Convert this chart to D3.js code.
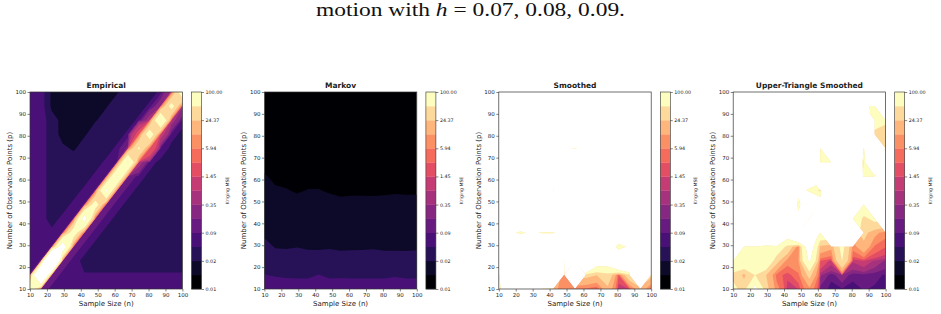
<!DOCTYPE html>
<html>
<head>
<meta charset="UTF-8">
<script src="https://d3js.org/d3.v7.min.js"></script>
<style>
  body { margin: 0; background: #fff; }
  text { font-family: "DejaVu Sans", sans-serif; fill: #222; }
</style>
</head>
<body>
<svg id="canvas"></svg>
<script>
const _ = null;   // masked cell (no estimate)

// grid of the simulation: sample size n (columns) and observation points p (rows)
const nValues = [10, 16.43, 22.86, 29.29, 35.71, 42.14, 48.57, 55, 61.43, 67.86, 74.29, 80.71, 87.14, 93.57, 100];
const pValues = [10, 16.43, 22.86, 29.29, 35.71, 42.14, 48.57, 55, 61.43, 67.86, 74.29, 80.71, 87.14, 93.57, 100];

// contour levels of the kriging MSE (log spaced) and colour bar labels
const levels = [0.00511, 0.01035, 0.02096, 0.04246, 0.0860, 0.1742, 0.3529, 0.7148, 1.448, 2.933, 5.94, 12.03, 24.37, 49.37, 100];
const cbTickLabels = ["0.01", "0.02", "0.09", "0.35", "1.45", "5.94", "24.37", "100.00"];
const axisTicks = [10, 20, 30, 40, 50, 60, 70, 80, 90, 100];
const panelTitles = ["Empirical", "Markov", "Smoothed", "Upper-Triangle Smoothed"];

// kriging MSE, one row per p (10 -> 100), one value per n (10 -> 100)
const empirical = [
  [80, 0.15, 0.06, 0.06, 0.06, 0.06, 0.06, 0.06, 0.06, 0.06, 0.06, 0.06, 0.06, 0.06, 0.06],
  [0.09, 300, 0.15, 0.06, 0.045, 0.045, 0.045, 0.045, 0.045, 0.045, 0.045, 0.045, 0.045, 0.045, 0.045],
  [0.06, 0.09, 400, 0.15, 0.06, 0.03, 0.03, 0.03, 0.03, 0.03, 0.03, 0.03, 0.03, 0.03, 0.03],
  [0.06, 0.055, 0.09, 150, 0.15, 0.06, 0.03, 0.03, 0.03, 0.03, 0.03, 0.03, 0.03, 0.03, 0.03],
  [0.06, 0.055, 0.05, 0.09, 75, 0.15, 0.06, 0.03, 0.03, 0.03, 0.03, 0.03, 0.03, 0.03, 0.03],
  [0.06, 0.055, 0.03, 0.05, 0.09, 130, 0.15, 0.06, 0.03, 0.03, 0.03, 0.03, 0.03, 0.03, 0.03],
  [0.06, 0.055, 0.03, 0.028, 0.05, 0.09, 70, 0.15, 0.06, 0.03, 0.03, 0.03, 0.03, 0.03, 0.03],
  [0.06, 0.055, 0.03, 0.028, 0.028, 0.05, 0.09, 115, 0.15, 0.06, 0.03, 0.03, 0.03, 0.03, 0.03],
  [0.06, 0.055, 0.03, 0.028, 0.028, 0.027, 0.05, 0.09, 110, 0.15, 0.06, 0.03, 0.03, 0.03, 0.03],
  [0.06, 0.055, 0.03, 0.028, 0.028, 0.027, 0.027, 0.05, 0.09, 108, 0.5, 0.06, 0.03, 0.03, 0.03],
  [0.06, 0.055, 0.03, 0.024, 0.019, 0.027, 0.027, 0.026, 0.05, 0.2, 55, 3, 0.08, 0.03, 0.03],
  [0.06, 0.055, 0.03, 0.015, 0.014, 0.0195, 0.027, 0.026, 0.027, 0.05, 2, 75, 1, 0.06, 0.03],
  [0.06, 0.055, 0.03, 0.015, 0.014, 0.015, 0.02, 0.026, 0.027, 0.027, 0.05, 0.5, 105, 0.5, 0.06],
  [0.06, 0.055, 0.016, 0.015, 0.014, 0.015, 0.019, 0.02, 0.027, 0.027, 0.027, 0.05, 0.3, 65, 0.4],
  [0.06, 0.055, 0.016, 0.015, 0.014, 0.015, 0.016, 0.019, 0.02, 0.027, 0.027, 0.027, 0.05, 0.4, 80]
];

const markov = [
  [0.055, 0.052, 0.051, 0.050, 0.050, 0.054, 0.050, 0.051, 0.050, 0.050, 0.050, 0.050, 0.051, 0.050, 0.050],
  [0.043, 0.041, 0.040, 0.040, 0.040, 0.0428, 0.040, 0.040, 0.040, 0.040, 0.040, 0.040, 0.041, 0.040, 0.040],
  [0.034, 0.030, 0.029, 0.030, 0.028, 0.028, 0.029, 0.026, 0.027, 0.027, 0.0275, 0.026, 0.026, 0.0255, 0.027],
  [0.026, 0.020, 0.0195, 0.0205, 0.019, 0.0188, 0.0195, 0.019, 0.019, 0.0192, 0.0195, 0.019, 0.019, 0.019, 0.019],
  [0.018, 0.0175, 0.017, 0.017, 0.017, 0.017, 0.017, 0.0165, 0.0165, 0.0165, 0.0165, 0.0165, 0.0165, 0.0165, 0.0165],
  [0.0155, 0.015, 0.0148, 0.0145, 0.0148, 0.0148, 0.0145, 0.014, 0.014, 0.014, 0.014, 0.014, 0.014, 0.014, 0.014],
  [0.0135, 0.013, 0.0125, 0.012, 0.0125, 0.0125, 0.012, 0.0115, 0.0118, 0.0118, 0.0117, 0.0118, 0.012, 0.0119, 0.0119],
  [0.0122, 0.0108, 0.0106, 0.0099, 0.0105, 0.0105, 0.0099, 0.0094, 0.0095, 0.0095, 0.0095, 0.0096, 0.0098, 0.0097, 0.0097],
  [0.0107, 0.0096, 0.009, 0.0087, 0.009, 0.009, 0.0087, 0.0084, 0.0085, 0.0085, 0.0085, 0.0085, 0.0086, 0.0086, 0.0086],
  [0.0092, 0.0085, 0.008, 0.0078, 0.008, 0.008, 0.0078, 0.0076, 0.0077, 0.0077, 0.0077, 0.0077, 0.0077, 0.0077, 0.0077],
  [0.0082, 0.0077, 0.0074, 0.0072, 0.0073, 0.0073, 0.0072, 0.007, 0.0071, 0.0071, 0.0071, 0.0071, 0.0071, 0.0071, 0.0071],
  [0.0074, 0.0071, 0.0069, 0.0067, 0.0068, 0.0068, 0.0067, 0.0066, 0.0066, 0.0066, 0.0066, 0.0066, 0.0066, 0.0066, 0.0066],
  [0.0068, 0.0066, 0.0064, 0.0063, 0.0064, 0.0064, 0.0063, 0.0062, 0.0062, 0.0062, 0.0062, 0.0062, 0.0062, 0.0062, 0.0062],
  [0.0064, 0.0062, 0.0061, 0.006, 0.0061, 0.0061, 0.006, 0.006, 0.006, 0.006, 0.006, 0.006, 0.006, 0.006, 0.006],
  [0.006, 0.0059, 0.0058, 0.0058, 0.0058, 0.0058, 0.0058, 0.0058, 0.0058, 0.0058, 0.0058, 0.0058, 0.0058, 0.0058, 0.0058]
];

const smoothed = [
  [60, 300, _, 300, 80, 15, 8, 6, 5, 2, 20, 0.5, 1.5, 20, 3],
  [90, 300, _, _, 2000, _, 10, _, 30, 25, 40, 3, 40, _, 30],
  [_, _, _, _, _, _, 90, 3000, 500, 150, 140, 270, 400, _, _],
  [_, 500, 445, 500, 600, 600, 600, _, _, _, 214, 60, 120, _, _],
  [_, 140, 70, 130, 80, 80, 201, _, _, _, 600, 270, 600, 600, 600],
  [_, 500, 445, 500, 600, 600, 600, _, _, _, 600, 95, 600, 98, 600],
  [_, _, _, _, 600, 120, 600, _, _, _, 600, 130, 600, 600, 600],
  [_, _, _, _, 600, 95, 600, _, _, _, _, _, _, _, _],
  [_, _, _, _, 600, 120, 600, _, _, _, _, _, _, _, _],
  [_, _, _, _, _, _, 600, 600, 600, _, _, _, _, _, _],
  [_, _, _, _, _, _, 116, 90, 135, _, _, _, _, _, _],
  [_, _, _, _, _, _, 600, 600, 600, _, _, _, _, 600, 600],
  [_, _, _, _, _, _, _, _, _, _, _, _, _, 600, 99],
  [_, _, _, _, _, _, _, _, _, _, _, _, _, 600, 600],
  [_, _, _, _, _, _, _, _, _, _, _, _, _, _, _]
];

const upperSmoothed = [
  [60, 35, 120, 30, 8, 0.6, 1.5, 10, 0.12, 0.07, 0.08, 0.07, 0.09, 0.08, 0.07],
  [40, 20, 50, 25, 4, 2, 5, 30, 0.4, 0.1, 0.3, 0.1, 0.12, 0.1, 0.08],
  [95, 90, 60, 95, 30, 8, 12, 110, 3, 1, 50, 0.8, 1.2, 0.6, 0.3],
  [500, 95, 95, 70, 80, 40, 6, 150, 20, 15, 60, 8, 20, 5, 3],
  [_, 500, 500, 400, 400, 150, 300, _, 85, _, _, _, 30, 15, 8],
  [_, 400, 95, 400, _, 400, 150, 97, _, _, _, 90, 40, 60, _],
  [_, 400, 400, 400, _, 400, 60, 300, 170, _, _, _, 90, _, _],
  [_, _, _, _, _, 400, 150, 80, 40, 640, _, _, _, _, _],
  [_, _, _, _, _, _, 400, 205, _, _, _, 600, 60, 70, _],
  [_, _, _, _, _, _, _, _, 90, 90, _, 600, 35, 600, 200],
  [_, _, _, _, _, _, _, _, 95, _, 600, _, 90, _, 50],
  [_, _, _, _, _, _, _, _, _, _, 600, 99, _, 40, 25],
  [_, _, _, _, _, _, _, _, _, _, 600, 102, _, 70, 60],
  [_, _, _, _, _, _, _, _, _, _, _, _, 150, 50, _],
  [_, _, _, _, _, _, _, _, _, _, _, _, _, _, _]
];

const grids = [empirical, markov, smoothed, upperSmoothed];

// layout
const width = 941, height = 314;
const axLeft = 30, panelStep = 234.4, axW = 152.4, axTop = 92, axH = 197;
const cbOffset = 161.5, cbW = 10;

const svg = d3.select("#canvas").attr("width", width).attr("height", height);

// caption line left over from the page above
svg.append("text")
  .attr("x", 470.5).attr("y", 16)
  .attr("text-anchor", "middle")
  .attr("textLength", 309).attr("lengthAdjust", "spacingAndGlyphs")
  .style("font-family", "'Liberation Serif', serif").style("font-size", "19px").style("fill", "#111")
  .call(t => {
    t.append("tspan").text("motion with ");
    t.append("tspan").style("font-style", "italic").text("h");
    t.append("tspan").text(" = 0.07, 0.08, 0.09.");
  });

// grid cells as lists of valid corners, in perimeter order; a cell with one
// masked corner keeps the triangle of the three others, fewer is dropped
function gridCells(grid) {
  const cells = [];
  for (let j = 0; j < pValues.length - 1; j++) {
    for (let i = 0; i < nValues.length - 1; i++) {
      const pts = [[i, j], [i + 1, j], [i + 1, j + 1], [i, j + 1]]
        .filter(([a, b]) => grid[b][a] != null)
        .map(([a, b]) => [nValues[a], pValues[b], grid[b][a]]);
      if (pts.length >= 3) cells.push(pts);
    }
  }
  return cells;
}

// region where the value is >= t (marching squares, linear along the edges)
function abovePath(cells, t, x, y) {
  let d = "";
  const cut = (a, b) => {
    const s = (t - a[2]) / (b[2] - a[2]);
    return [a[0] + s * (b[0] - a[0]), a[1] + s * (b[1] - a[1])];
  };
  const add = poly => {
    if (poly.length >= 3) d += "M" + poly.map(q => x(q[0]).toFixed(2) + "," + y(q[1]).toFixed(2)).join("L") + "Z";
  };
  cells.forEach(pts => {
    const m = pts.length;
    const up = pts.map(q => q[2] >= t);
    const saddle = m === 4 && up[0] === up[2] && up[1] === up[3] && up[0] !== up[1];
    if (saddle && d3.mean(pts, q => q[2]) < t) {
      pts.forEach((q, k) => {
        if (!up[k]) return;
        add([cut(pts[(k + 3) % 4], q), q, cut(q, pts[(k + 1) % 4])]);
      });
      return;
    }
    const poly = [];
    pts.forEach((a, k) => {
      const b = pts[(k + 1) % m];
      if (up[k]) poly.push(a);
      if (up[k] !== up[(k + 1) % m]) poly.push(cut(a, b));
    });
    add(poly);
  });
  return d;
}

const bandColor = k => d3.interpolateMagma(k / (levels.length - 2));

grids.forEach((grid, idx) => {
  const g = svg.append("g")
    .attr("transform", "translate(" + (axLeft + idx * panelStep) + "," + axTop + ")");

  const x = d3.scaleLinear().domain([10, 100]).range([0, axW]);
  const y = d3.scaleLinear().domain([10, 100]).range([axH, 0]);

  g.append("clipPath").attr("id", "clip" + idx)
    .append("rect").attr("width", axW).attr("height", axH);

  // filled contours: band k paints [levels[k], levels[k+2]) so that it sits
  // under the next band (no seams); values above the top level stay blank
  const cells = gridCells(grid);
  const above = levels.map(t => abovePath(cells, t, x, y));
  const plot = g.append("g").attr("clip-path", "url(#clip" + idx + ")");
  d3.range(levels.length - 1).forEach(k => {
    if (!above[k]) return;
    plot.append("path")
      .attr("d", above[k] + above[Math.min(k + 2, levels.length - 1)])
      .attr("fill-rule", "evenodd")
      .attr("fill", bandColor(k));
  });

  // axes
  const xAxis = g.append("g").attr("transform", "translate(0," + axH + ")")
    .call(d3.axisBottom(x).tickValues(axisTicks).tickSize(2.5).tickPadding(1.5));
  const yAxis = g.append("g")
    .call(d3.axisLeft(y).tickValues(axisTicks).tickSize(2.5).tickPadding(1.5));
  [xAxis, yAxis].forEach(a => {
    a.select(".domain").remove();
    a.selectAll(".tick line").attr("stroke", "#333").attr("stroke-width", 0.6);
    a.selectAll(".tick text").style("font-size", "5.5px").style("fill", "#222");
  });

  g.append("rect").attr("width", axW).attr("height", axH)
    .attr("fill", "none").attr("stroke", "#333").attr("stroke-width", 0.7);

  g.append("text")
    .attr("x", axW / 2).attr("y", -4)
    .attr("text-anchor", "middle")
    .style("font-size", "7.5px").style("font-weight", "bold")
    .text(panelTitles[idx]);

  g.append("text")
    .attr("x", axW / 2).attr("y", axH + 17)
    .attr("text-anchor", "middle")
    .style("font-size", "7px")
    .text("Sample Size (n)");

  g.append("text")
    .attr("transform", "translate(-18," + (axH / 2) + ") rotate(-90)")
    .attr("text-anchor", "middle")
    .style("font-size", "7px")
    .text("Number of Observation Points (p)");

  // colour bar
  const cb = g.append("g").attr("transform", "translate(" + cbOffset + ",0)");
  const yb = d3.scaleLinear().domain([0, levels.length - 1]).range([axH, 0]);
  cb.selectAll("rect.band")
    .data(d3.range(levels.length - 1))
    .enter().append("rect")
      .attr("class", "band")
      .attr("x", 0)
      .attr("y", k => yb(k + 1))
      .attr("width", cbW)
      .attr("height", k => yb(k) - yb(k + 1) + 0.3)
      .attr("fill", k => bandColor(k));
  cb.append("rect").attr("width", cbW).attr("height", axH)
    .attr("fill", "none").attr("stroke", "#333").attr("stroke-width", 0.6);
  const cbAxis = cb.append("g").attr("transform", "translate(" + cbW + ",0)")
    .call(d3.axisRight(yb).tickValues(d3.range(0, levels.length, 2))
      .tickFormat((d, i) => cbTickLabels[i]).tickSize(2.5).tickPadding(1.5));
  cbAxis.select(".domain").remove();
  cbAxis.selectAll(".tick line").attr("stroke", "#333").attr("stroke-width", 0.6);
  cbAxis.selectAll(".tick text").style("font-size", "4.8px").style("fill", "#222");

  cb.append("text")
    .attr("transform", "translate(" + (197 - cbOffset) + "," + (axH / 2) + ") rotate(-90)")
    .attr("text-anchor", "middle")
    .attr("dy", "0.35em")
    .style("font-size", "4.6px")
    .text("Kriging MSE");
});
</script>
</body>
</html>
